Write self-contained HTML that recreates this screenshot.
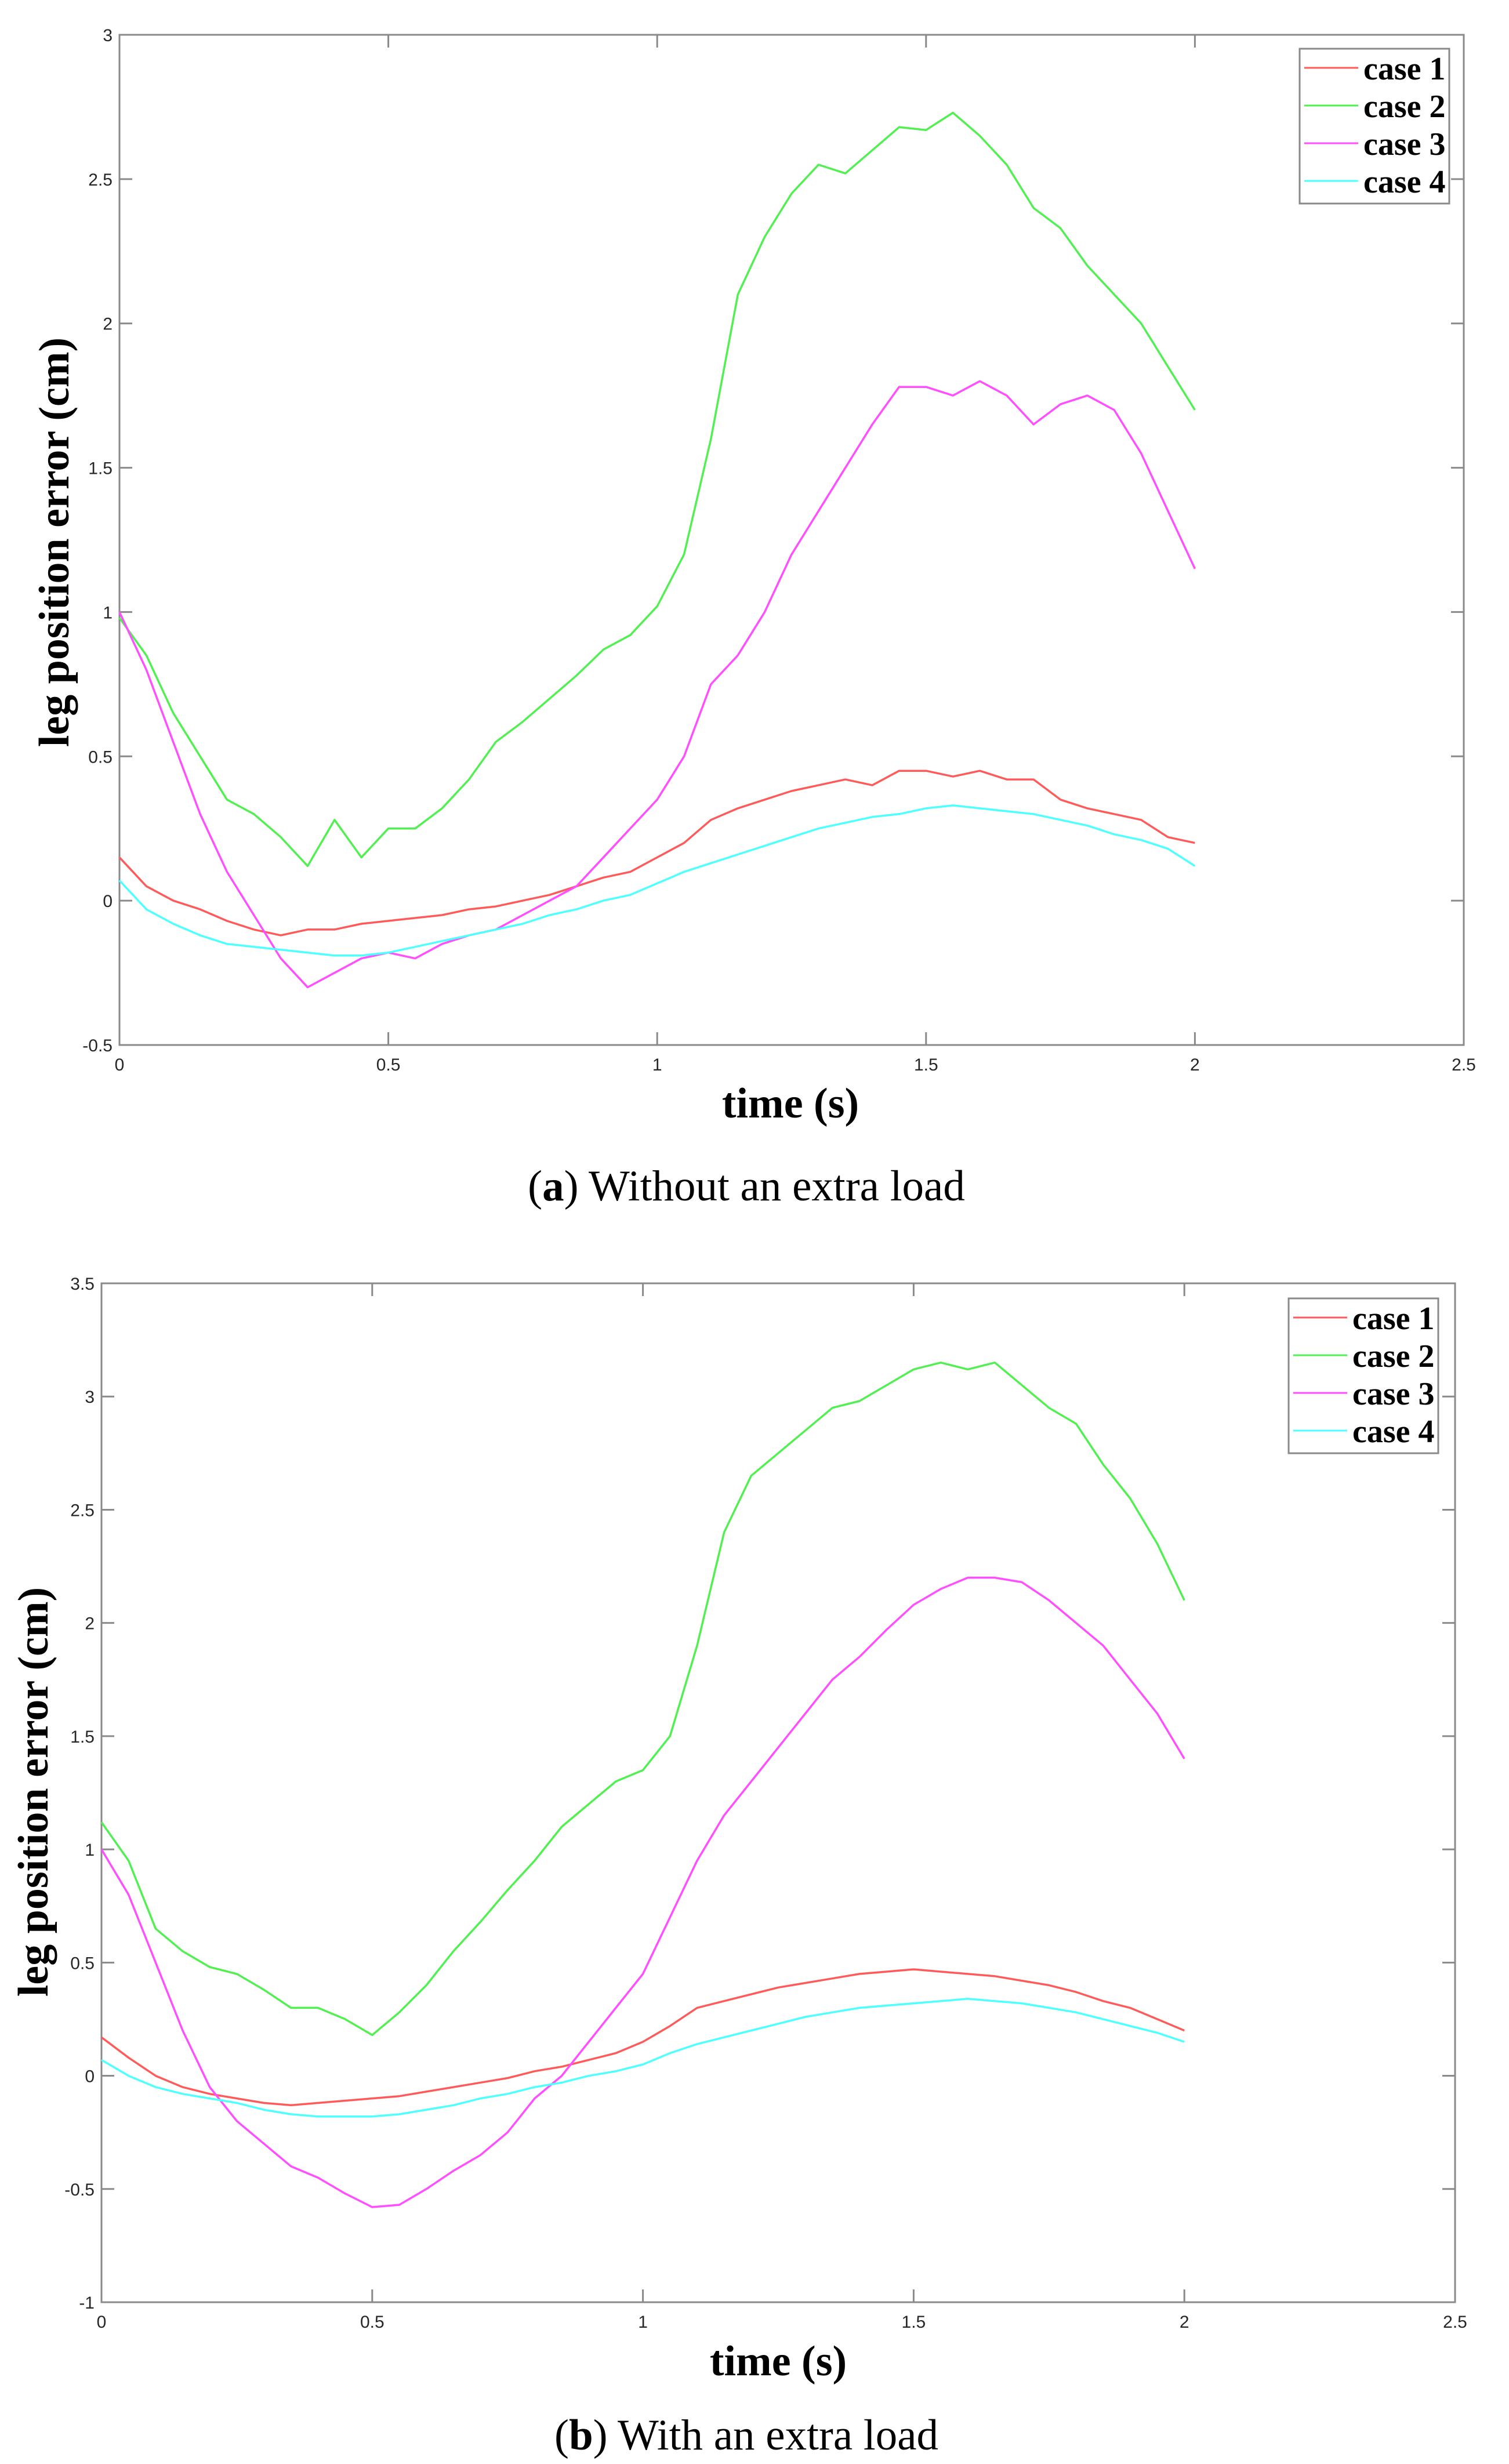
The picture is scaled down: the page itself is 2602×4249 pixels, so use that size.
<!DOCTYPE html>
<html><head><meta charset="utf-8">
<style>
html,body{margin:0;padding:0;background:#fff;}
body{width:2602px;height:4249px;overflow:hidden;}
svg{display:block;}
.tick{font-family:"Liberation Sans",sans-serif;font-size:30px;fill:#262626;}
.axl{font-family:"Liberation Serif",serif;font-weight:bold;font-size:74px;fill:#000;}
.leg{font-family:"Liberation Serif",serif;font-weight:bold;font-size:56px;fill:#000;}
.cap{font-family:"Liberation Serif",serif;font-size:75px;fill:#000;}
</style></head>
<body>
<svg id="root" width="2602" height="4249" viewBox="0 0 2602 4249" xmlns="http://www.w3.org/2000/svg">
<text class="cap" x="1287" y="2070" text-anchor="middle">(<tspan font-weight="bold">a</tspan>) Without an extra load</text>
<text class="cap" x="1287" y="4224" text-anchor="middle">(<tspan font-weight="bold">b</tspan>) With an extra load</text>
</svg>
<script>
const timesA = [0,0.05,0.1,0.15,0.2,0.25,0.3,0.35,0.4,0.45,0.5,0.55,0.6,0.65,0.7,0.75,0.8,0.85,0.9,0.95,1.0,1.05,1.1,1.15,1.2,1.25,1.3,1.35,1.4,1.45,1.5,1.55,1.6,1.65,1.7,1.75,1.8,1.85,1.9,1.95,2.0];
const case1A = [0.15,0.05,0.0,-0.03,-0.07,-0.1,-0.12,-0.1,-0.1,-0.08,-0.07,-0.06,-0.05,-0.03,-0.02,0.0,0.02,0.05,0.08,0.1,0.15,0.2,0.28,0.32,0.35,0.38,0.4,0.42,0.4,0.45,0.45,0.43,0.45,0.42,0.42,0.35,0.32,0.3,0.28,0.22,0.2];
const case2A = [0.98,0.85,0.65,0.5,0.35,0.3,0.22,0.12,0.28,0.15,0.25,0.25,0.32,0.42,0.55,0.62,0.7,0.78,0.87,0.92,1.02,1.2,1.6,2.1,2.3,2.45,2.55,2.52,2.6,2.68,2.67,2.73,2.65,2.55,2.4,2.33,2.2,2.1,2.0,1.85,1.7];
const case3A = [1.0,0.8,0.55,0.3,0.1,-0.05,-0.2,-0.3,-0.25,-0.2,-0.18,-0.2,-0.15,-0.12,-0.1,-0.05,0.0,0.05,0.15,0.25,0.35,0.5,0.75,0.85,1.0,1.2,1.35,1.5,1.65,1.78,1.78,1.75,1.8,1.75,1.65,1.72,1.75,1.7,1.55,1.35,1.15];
const case4A = [0.07,-0.03,-0.08,-0.12,-0.15,-0.16,-0.17,-0.18,-0.19,-0.19,-0.18,-0.16,-0.14,-0.12,-0.1,-0.08,-0.05,-0.03,0.0,0.02,0.06,0.1,0.13,0.16,0.19,0.22,0.25,0.27,0.29,0.3,0.32,0.33,0.32,0.31,0.3,0.28,0.26,0.23,0.21,0.18,0.12];
const timesB = timesA;
const case1B = [0.17,0.08,0.0,-0.05,-0.08,-0.1,-0.12,-0.13,-0.12,-0.11,-0.1,-0.09,-0.07,-0.05,-0.03,-0.01,0.02,0.04,0.07,0.1,0.15,0.22,0.3,0.33,0.36,0.39,0.41,0.43,0.45,0.46,0.47,0.46,0.45,0.44,0.42,0.4,0.37,0.33,0.3,0.25,0.2];
const case2B = [1.12,0.95,0.65,0.55,0.48,0.45,0.38,0.3,0.3,0.25,0.18,0.28,0.4,0.55,0.68,0.82,0.95,1.1,1.2,1.3,1.35,1.5,1.9,2.4,2.65,2.75,2.85,2.95,2.98,3.05,3.12,3.15,3.12,3.15,3.05,2.95,2.88,2.7,2.55,2.35,2.1];
const case3B = [1.0,0.8,0.5,0.2,-0.05,-0.2,-0.3,-0.4,-0.45,-0.52,-0.58,-0.57,-0.5,-0.42,-0.35,-0.25,-0.1,0.0,0.15,0.3,0.45,0.7,0.95,1.15,1.3,1.45,1.6,1.75,1.85,1.97,2.08,2.15,2.2,2.2,2.18,2.1,2.0,1.9,1.75,1.6,1.4];
const case4B = [0.07,0.0,-0.05,-0.08,-0.1,-0.12,-0.15,-0.17,-0.18,-0.18,-0.18,-0.17,-0.15,-0.13,-0.1,-0.08,-0.05,-0.03,0.0,0.02,0.05,0.1,0.14,0.17,0.2,0.23,0.26,0.28,0.3,0.31,0.32,0.33,0.34,0.33,0.32,0.3,0.28,0.25,0.22,0.19,0.15];
const xTicks = [0,0.5,1,1.5,2,2.5];
const xTickLabels = ["0","0.5","1","1.5","2","2.5"];
const yTicksA = [-0.5,0,0.5,1,1.5,2,2.5,3];
const yTickLabelsA = ["-0.5","0","0.5","1","1.5","2","2.5","3"];
const yTicksB = [-1,-0.5,0,0.5,1,1.5,2,2.5,3,3.5];
const yTickLabelsB = ["-1","-0.5","0","0.5","1","1.5","2","2.5","3","3.5"];
const seriesNames = ["case 1","case 2","case 3","case 4"];
const colors = ["#ff5a5a","#4ff04f","#ff4dff","#4dffff"];

const NS = "http://www.w3.org/2000/svg";
const root = document.getElementById('root');
function mk(tag, attrs, parent){ const e=document.createElementNS(NS,tag); for(const k in attrs) e.setAttribute(k,attrs[k]); (parent||root).appendChild(e); return e; }

function chart(cfg){
  const g = mk('g',{});
  
  
  const sx = v => cfg.x0 + (v - 0) / 2.5 * (cfg.x1 - cfg.x0);
  const sy = v => cfg.yb + (v - cfg.ymin) / (cfg.ymax - cfg.ymin) * (cfg.yt - cfg.yb);
  const box = mk('rect',{x:cfg.x0,y:cfg.yt,width:cfg.x1-cfg.x0,height:cfg.yb-cfg.yt,fill:'none',stroke:'#8a8a8a','stroke-width':3},g);
  
  
  const tl = 22;
  xTicks.forEach((v,i)=>{
    const x = sx(v);
    mk('line',{x1:x,y1:cfg.yb,x2:x,y2:cfg.yb-tl,stroke:'#8a8a8a','stroke-width':3},g);
    mk('line',{x1:x,y1:cfg.yt,x2:x,y2:cfg.yt+tl,stroke:'#8a8a8a','stroke-width':3},g);
    const t = mk('text',{x:x,y:cfg.yb+44,'text-anchor':'middle',class:'tick'},g);
    t.textContent = xTickLabels[i];
    
    
  });
  cfg.yTicks.forEach((v,i)=>{
    const y = sy(v);
    mk('line',{x1:cfg.x0,y1:y,x2:cfg.x0+tl,y2:y,stroke:'#8a8a8a','stroke-width':3},g);
    mk('line',{x1:cfg.x1,y1:y,x2:cfg.x1-tl,y2:y,stroke:'#8a8a8a','stroke-width':3},g);
    const t = mk('text',{x:cfg.x0-12,y:y+11,'text-anchor':'end',class:'tick'},g);
    t.textContent = cfg.yTickLabels[i];
    
    
  });
  cfg.series.forEach((vals,k)=>{
    const d = vals.map((v,i)=>(i?'L':'M')+sx(cfg.times[i]).toFixed(1)+','+sy(v).toFixed(1)).join(' ');
    const p = mk('path',{d:d,fill:'none',stroke:colors[k],'stroke-width':3.5,'stroke-linejoin':'round'},g);
    
    
  });
  const xl = mk('text',{x:cfg.xlx,y:cfg.xly,'text-anchor':'middle',class:'axl'},g);
  xl.textContent = 'time (s)';
  
  
  const yl = mk('text',{x:0,y:0,'text-anchor':'middle',class:'axl',transform:'translate('+cfg.ylx+','+cfg.yly+') rotate(-90)'},g);
  yl.textContent = 'leg position error (cm)';
  
  
  const lg = mk('g',{},g);
  
  
  mk('rect',{x:cfg.lx,y:cfg.ly,width:258,height:267,fill:'#fff',stroke:'#8a8a8a','stroke-width':3},lg);
  seriesNames.forEach((n,k)=>{
    const e = mk('g',{},lg);
    
    
    const yy = cfg.ly + 33 + k*65;
    mk('line',{x1:cfg.lx+8,y1:yy,x2:cfg.lx+101,y2:yy,stroke:colors[k],'stroke-width':3},e);
    const t = mk('text',{x:cfg.lx+110,y:yy+20,class:'leg'},e);
    t.textContent = n;
  });
}
chart({name:'chart-a',x0:206,x1:2524,yt:60,yb:1802,ymin:-0.5,ymax:3,yTicks:yTicksA,yTickLabelsA:null,yTickLabels:yTickLabelsA,times:timesA,
  series:[case1A,case2A,case3A,case4A],xlx:1363,xly:1927,ylx:118,yly:935,lx:2241,ly:84});
chart({name:'chart-b',x0:175,x1:2509,yt:2213,yb:3970,ymin:-1,ymax:3.5,yTicks:yTicksB,yTickLabels:yTickLabelsB,times:timesB,
  series:[case1B,case2B,case3B,case4B],xlx:1342,xly:4096,ylx:82,yly:3090,lx:2222,ly:2239});
</script>
</body></html>
